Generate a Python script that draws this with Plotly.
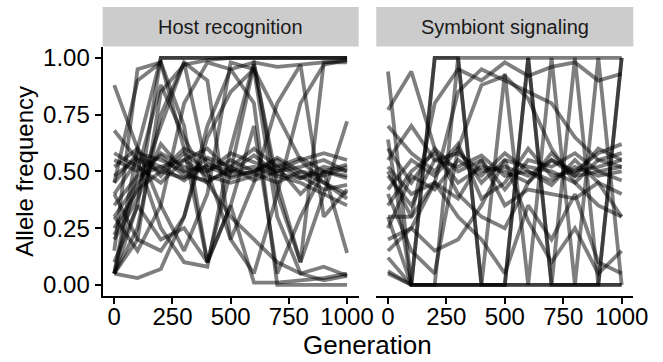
import plotly.graph_objects as go

generations = [0, 100, 200, 300, 400, 500, 600, 700, 800, 900, 1000]
panel_titles = ["Host recognition", "Symbiont signaling"]
x_ticks = [0, 250, 500, 750, 1000]
y_ticks = [0.0, 0.25, 0.5, 0.75, 1.0]

host_lines = [
    [0.45, 0.58, 0.55, 0.50, 0.52, 0.48, 0.50, 0.53, 0.47, 0.50, 0.48],
    [0.40, 0.55, 0.50, 0.47, 0.56, 0.52, 0.46, 0.50, 0.52, 0.55, 0.50],
    [0.52, 0.60, 0.48, 0.58, 0.50, 0.55, 0.50, 0.56, 0.50, 0.48, 0.52],
    [0.55, 0.50, 0.57, 0.48, 0.46, 0.50, 0.49, 0.45, 0.50, 0.45, 0.38],
    [0.35, 0.48, 0.52, 0.55, 0.60, 0.50, 0.52, 0.48, 0.45, 0.40, 0.35],
    [0.30, 0.45, 0.58, 0.52, 0.50, 0.58, 0.54, 0.50, 0.55, 0.58, 0.55],
    [0.58, 0.52, 0.45, 0.55, 0.48, 0.45, 0.48, 0.52, 0.56, 0.50, 0.47],
    [0.48, 0.56, 0.52, 0.46, 0.53, 0.50, 0.57, 0.49, 0.47, 0.52, 0.50],
    [0.25, 0.42, 0.50, 0.60, 0.55, 0.47, 0.50, 0.55, 0.48, 0.42, 0.44],
    [0.20, 0.38, 0.62, 0.50, 0.45, 0.52, 0.60, 0.52, 0.40, 0.50, 0.53],
    [0.05, 0.35, 1.00, 1.00, 1.00, 1.00, 1.00, 1.00, 1.00, 1.00, 1.00],
    [0.05, 0.60, 1.00, 1.00, 1.00, 1.00, 1.00, 1.00, 1.00, 1.00, 1.00],
    [0.05, 0.20, 0.85, 0.97, 0.99, 1.00, 1.00, 1.00, 1.00, 1.00, 1.00],
    [0.88, 0.60, 0.35, 0.15, 0.40, 0.98, 0.95, 0.30, 0.05, 0.02, 0.04],
    [0.68, 0.55, 0.25, 0.10, 0.08, 0.60, 0.98, 0.96, 0.97, 0.98, 0.99],
    [0.05, 0.03, 0.07, 0.30, 0.70, 0.95, 0.80, 0.00, 0.00, 0.00, 0.00],
    [0.15, 0.95, 0.98, 0.70, 0.10, 0.35, 0.01, 0.01, 0.02, 0.03, 0.05],
    [0.05, 0.25, 0.75, 0.98, 0.50, 0.20, 0.05, 0.40, 0.80, 0.97, 0.99],
    [0.40, 0.20, 0.15, 0.30, 0.65, 0.85, 0.95, 0.75, 0.55, 0.45, 0.40],
    [0.45, 0.90, 0.98, 0.60, 0.10, 0.35, 0.70, 0.05, 0.30, 0.50, 0.14],
    [0.30, 0.15, 0.35, 0.80, 0.98, 0.95, 0.98, 0.40, 0.10, 0.40, 0.72],
    [0.10, 0.35, 0.20, 0.25, 0.10, 0.50, 0.97, 0.45, 0.10, 0.98, 0.98],
    [0.22, 0.42, 0.70, 0.98, 0.90, 0.20, 0.45, 0.80, 0.97, 0.30, 0.42],
    [0.05, 0.50, 0.88, 0.65, 0.45, 0.30, 0.20, 0.10, 0.05, 0.08, 0.04],
]

symbiont_lines = [
    [0.94, 0.00, 1.00, 1.00, 1.00, 1.00, 1.00, 1.00, 1.00, 1.00, 1.00],
    [0.06, 0.00, 0.00, 1.00, 0.00, 0.93, 0.00, 1.00, 0.00, 1.00, 0.00],
    [0.64, 0.00, 0.00, 0.00, 0.00, 0.00, 1.00, 0.00, 1.00, 0.00, 1.00],
    [0.12, 0.00, 1.00, 1.00, 0.00, 0.00, 1.00, 0.00, 0.00, 0.00, 1.00],
    [0.05, 0.00, 0.00, 0.00, 0.00, 0.00, 0.00, 0.00, 0.00, 0.00, 0.00],
    [0.30, 0.00, 0.00, 0.00, 0.00, 0.00, 0.00, 0.00, 0.00, 0.00, 0.00],
    [0.55, 0.70, 0.55, 0.58, 0.50, 0.52, 0.48, 0.55, 0.50, 0.52, 0.55],
    [0.48, 0.35, 0.55, 0.52, 0.57, 0.48, 0.50, 0.46, 0.52, 0.48, 0.50],
    [0.42, 0.55, 0.48, 0.60, 0.45, 0.55, 0.52, 0.50, 0.45, 0.55, 0.52],
    [0.60, 0.45, 0.60, 0.50, 0.55, 0.42, 0.55, 0.52, 0.58, 0.50, 0.46],
    [0.35, 0.50, 0.58, 0.45, 0.52, 0.50, 0.45, 0.58, 0.48, 0.60, 0.55],
    [0.25, 0.48, 0.42, 0.55, 0.48, 0.58, 0.50, 0.44, 0.55, 0.45, 0.40],
    [0.70, 0.58, 0.50, 0.62, 0.38, 0.45, 0.60, 0.48, 0.50, 0.58, 0.62],
    [0.52, 0.40, 0.45, 0.38, 0.55, 0.35, 0.42, 0.40, 0.38, 0.45, 0.30],
    [0.77, 0.94, 0.60, 0.40, 0.30, 0.25, 0.45, 0.55, 0.48, 0.50, 0.52],
    [0.20, 0.25, 0.15, 0.20, 0.35, 0.55, 0.28, 0.10, 0.25, 0.05, 0.15],
    [0.15, 0.25, 0.45, 0.85, 0.95, 0.90, 0.85, 0.80, 0.65, 0.55, 0.58],
    [0.50, 0.30, 0.80, 0.95, 0.90, 0.98, 0.92, 0.96, 0.98, 0.90, 0.93],
    [0.40, 0.15, 0.05, 0.60, 0.88, 0.92, 0.82, 0.60, 0.45, 0.35, 0.30],
    [0.30, 0.30, 0.45, 0.30, 0.20, 0.05, 0.35, 0.20, 0.40, 0.10, 0.05],
]

W, H = 663, 362
FONT = "Liberation Sans, Arial, Helvetica, sans-serif"

fig = go.Figure()
for vals in host_lines:
    fig.add_trace(go.Scatter(x=generations, y=vals, mode="lines", xaxis="x", yaxis="y",
                             line=dict(color="black", width=3.8), opacity=0.5,
                             showlegend=False, hoverinfo="skip"))
for vals in symbiont_lines:
    fig.add_trace(go.Scatter(x=generations, y=vals, mode="lines", xaxis="x2", yaxis="y2",
                             line=dict(color="black", width=3.8), opacity=0.5,
                             showlegend=False, hoverinfo="skip"))

p1 = (105, 367)
p2 = (385, 648)
top, bottom = 45, 297.5
strip_top = 5
ydom = [1 - bottom / H, 1 - top / H]

xcommon = dict(range=[-50, 1050], tickvals=x_ticks, ticktext=[str(v) for v in x_ticks],
               showgrid=False, zeroline=False, showline=True, linecolor="black", linewidth=2,
               ticks="outside", ticklen=6, tickwidth=2, tickcolor="black",
               tickfont=dict(family=FONT, size=24, color="black"), ticklabelstandoff=-8)
ycommon = dict(range=[-0.05, 1.05], domain=ydom, showgrid=False, zeroline=False)

fig.update_layout(
    width=W, height=H, autosize=False, margin=dict(l=0, r=0, t=0, b=0),
    plot_bgcolor="white", paper_bgcolor="white",
    xaxis=dict(domain=[p1[0] / W, p1[1] / W], anchor="y", **xcommon),
    xaxis2=dict(domain=[p2[0] / W, p2[1] / W], anchor="y2", **xcommon),
    yaxis=dict(anchor="x", tickvals=y_ticks, ticktext=["%.2f" % v for v in y_ticks],
               showline=True, linecolor="black", linewidth=2,
               ticks="outside", ticklen=6, tickwidth=2, tickcolor="black",
               tickfont=dict(family=FONT, size=24, color="black"), ticklabelstandoff=0,
               **ycommon),
    yaxis2=dict(anchor="x2", showticklabels=False, showline=False, ticks="", **ycommon),
)

for (x0, x1), title in zip([p1, p2], panel_titles):
    fig.add_shape(type="rect", xref="paper", yref="paper",
                  x0=x0 / W, x1=x1 / W, y0=1 - top / H, y1=1 - strip_top / H,
                  fillcolor="#cccccc", line=dict(width=0), layer="below")
    fig.add_annotation(xref="paper", yref="paper", x=(x0 + x1) / 2 / W,
                       y=1 - (top + strip_top) / 2 / H, text=title, showarrow=False,
                       font=dict(family=FONT, size=20, color="#1a1a1a"),
                       xanchor="center", yanchor="middle")

fig.add_annotation(xref="paper", yref="paper", x=(p1[0] + p2[1]) / 2 / W, y=1 - 347 / H,
                   text="Generation", showarrow=False,
                   font=dict(family=FONT, size=26, color="black"),
                   xanchor="center", yanchor="middle")
fig.add_annotation(xref="paper", yref="paper", x=25 / W, y=1 - (top + bottom) / 2 / H,
                   text="Allele frequency", showarrow=False, textangle=-90,
                   font=dict(family=FONT, size=24, color="black"),
                   xanchor="center", yanchor="middle")

post = (
    "document.documentElement.style.margin='0';"
    "document.documentElement.style.overflow='hidden';"
    "document.body.style.margin='0';document.body.style.padding='0';"
    "document.body.style.overflow='hidden';"
)

fig.write_html("out.html", config={"displayModeBar": False, "responsive": False},
               post_script=post)
